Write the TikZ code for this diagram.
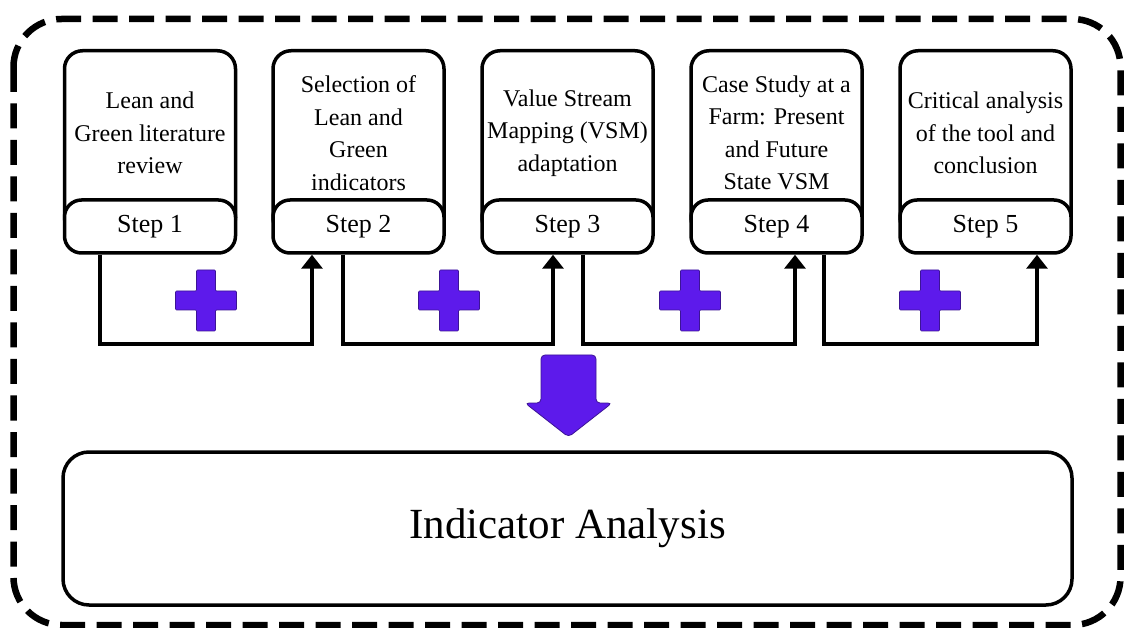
\documentclass[tikz,border=0pt]{standalone}
\usepackage{fontspec}
\setmainfont{Liberation Serif}
\usetikzlibrary{arrows.meta,calc}
\definecolor{plusviolet}{RGB}{93,26,235}
\definecolor{plusedge}{RGB}{60,20,150}
\tikzset{
  upperbox/.style={draw, line width=3.5pt, rounded corners=18pt, minimum width=171pt, minimum height=185pt, anchor=north, inner sep=0pt},
  stepbox/.style={draw, line width=3.5pt, rounded corners=17pt, fill=white, minimum width=171pt, minimum height=53pt, inner sep=0pt, font=\fontsize{26}{28}\selectfont},
  boxtext/.style={align=center, font=\fontsize{24}{32.5}\selectfont, inner sep=0pt},
  conn/.style={line width=4pt, -{Triangle[length=14pt,width=21pt]}},
  plusmark/.style={fill=plusviolet, draw=plusedge, line width=0.6pt, rounded corners=1pt},
  bigarrow/.style={fill=plusviolet, draw=plusedge, line width=0.8pt, rounded corners=4pt},
  outer/.style={line width=6.5pt, dash pattern=on 25pt off 11.5pt, rounded corners=48pt},
  mainbox/.style={draw, line width=3.5pt, rounded corners=26pt, minimum width=1009pt, minimum height=153pt, font=\fontsize{43}{48}\selectfont}
}
\newcommand{\plusshape}[2]{%
  \path[plusmark] (#1-9.5,#2-30.5) -- (#1+9.5,#2-30.5) -- (#1+9.5,#2-9.5) -- (#1+30.5,#2-9.5) -- (#1+30.5,#2+9.5) -- (#1+9.5,#2+9.5) -- (#1+9.5,#2+30.5) -- (#1-9.5,#2+30.5) -- (#1-9.5,#2+9.5) -- (#1-30.5,#2+9.5) -- (#1-30.5,#2-9.5) -- (#1-9.5,#2-9.5) -- cycle;}
\begin{document}
\begin{tikzpicture}[x=1pt,y=-1pt]
\useasboundingbox (0,0) rectangle (1125,628);
\fill[white] (0,0) rectangle (1125,628);
% outer dashed frame
\draw[outer] (13.5,19) rectangle (1120.5,625);
% upper boxes
\node[upperbox] (b1) at (150,49) {};
\node[upperbox] (b2) at (358.5,49) {};
\node[upperbox] (b3) at (567.5,49) {};
\node[upperbox] (b4) at (776.5,49) {};
\node[upperbox] (b5) at (985.5,49) {};
% texts
\node[boxtext] (t1) at (150,133) {Lean and\\Green literature\\review};
\node[boxtext] (t2) at (358.5,133) {Selection of\\Lean and\\Green\\indicators};
\node[boxtext] (t3) at (567.5,133) {Value Stream\\Mapping (VSM)\\adaptation};
\node[boxtext] (t4) at (776.5,133) {Case Study at a\\Farm: Present\\and Future\\State VSM};
\node[boxtext] (t5) at (985.5,133) {Critical analysis\\of the tool and\\conclusion};
% step boxes
\node[stepbox] (s1) at (150,226.5) {Step 1};
\node[stepbox] (s2) at (358.5,226.5) {Step 2};
\node[stepbox] (s3) at (567.5,226.5) {Step 3};
\node[stepbox] (s4) at (776.5,226.5) {Step 4};
\node[stepbox] (s5) at (985.5,226.5) {Step 5};
% connectors
\draw[conn] ([xshift=-50pt]s1.south) -- ++(0,89) -| ([xshift=-46.5pt]s2.south);
\draw[conn] ([xshift=-15.5pt]s2.south) -- ++(0,89) -| ([xshift=-14.5pt]s3.south);
\draw[conn] ([xshift=15.5pt]s3.south) -- ++(0,89) -| ([xshift=18.5pt]s4.south);
\draw[conn] ([xshift=47.5pt]s4.south) -- ++(0,89) -| ([xshift=51.5pt]s5.south);
% plus marks
\plusshape{206}{300.5}
\plusshape{449}{300.5}
\plusshape{690}{300.5}
\plusshape{930}{300.5}
% big arrow
\path[bigarrow] (541,355) -- (596,355) -- (596,403) -- (612,403) -- (568.5,437) -- (525,403) -- (541,403) -- cycle;
% main box
\node[mainbox] (ia) at (567.5,528.5) {Indicator Analysis};
\end{tikzpicture}
\end{document}
